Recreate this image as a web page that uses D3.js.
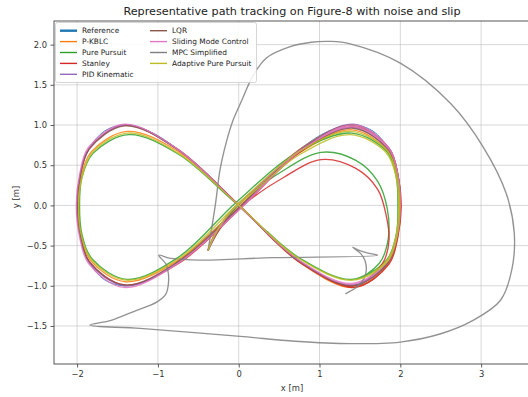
<!DOCTYPE html>
<html><head><meta charset="utf-8">
<script src="https://cdn.jsdelivr.net/npm/d3@7"></script>
<style>body{margin:0;background:#fff}svg{display:block;font-family:"DejaVu Sans",sans-serif}</style>
</head><body><svg id="c" width="528" height="397"></svg>
<script>
const title = "Representative path tracking on Figure-8 with noise and slip";
const xTicks = [-2,-1,0,1,2,3];
const yTicks = [-1.5,-1.0,-0.5,0.0,0.5,1.0,1.5,2.0];
const names = ["Reference","P-KBLC","Pure Pursuit","Stanley","PID Kinematic","LQR","Sliding Mode Control","MPC Simplified","Adaptive Pure Pursuit"];
const colors = ["#1f77b4","#ff7f0e","#2ca02c","#d62728","#9467bd","#8c564b","#e377c2","#7f7f7f","#bcbd22"];

const reference = [[0,0],[0.39,0.383],[0.765,0.707],[1.111,0.924],[1.414,1],[1.663,0.924],[1.848,0.707],[1.962,0.383],[2,0],[1.962,-0.383],[1.848,-0.707],[1.663,-0.924],[1.414,-1],[1.111,-0.924],[0.765,-0.707],[0.39,-0.383],[0,0],[-0.39,0.383],[-0.765,0.707],[-1.111,0.924],[-1.414,1],[-1.663,0.924],[-1.848,0.707],[-1.962,0.383],[-2,0],[-1.962,-0.383],[-1.848,-0.707],[-1.663,-0.924],[-1.414,-1],[-1.111,-0.924],[-0.765,-0.707],[-0.39,-0.383],[0,0]];
const pkblc = [[-0.38,-0.56],[-0.3,-0.36],[-0.12,-0.1],[0.2,0.2],[0.76,0.66],[1.4,0.94],[1.84,0.68],[1.96,0.36],[1.99,0],[1.96,-0.38],[1.85,-0.72],[1.42,-1.02],[0.77,-0.72],[0.01,-0.01],[-0.75,0.67],[-1.38,0.92],[-1.82,0.67],[-1.95,0.36],[-1.98,0],[-1.95,-0.37],[-1.83,-0.69],[-1.4,-0.95],[-0.76,-0.69],[0.01,-0.01],[0.76,0.7],[1.42,1.0],[1.86,0.71],[1.97,0.38],[2.01,0],[1.97,-0.38],[1.86,-0.72],[1.42,-1.02],[0.78,-0.72],[0.35,-0.35]];
const purePursuit = [[-0.38,-0.56],[-0.24,-0.3],[0.02,0.04],[0.5,0.4],[1.02,0.66],[1.45,0.56],[1.72,0.3],[1.84,-0.05],[1.85,-0.42],[1.74,-0.72],[1.4,-0.92],[0.76,-0.66],[-0.04,0.03],[-0.75,0.64],[-1.36,0.88],[-1.8,0.65],[-1.94,0.35],[-1.97,0],[-1.94,-0.36],[-1.81,-0.67],[-1.38,-0.92],[-0.74,-0.64],[-0.03,0.04],[0.74,0.67],[1.4,0.9],[1.84,0.66],[1.95,0.35],[1.97,0],[1.95,-0.36],[1.83,-0.68],[1.4,-0.92],[0.76,-0.66],[0.35,-0.32]];
const stanley = [[-0.38,-0.56],[-0.24,-0.3],[0.05,0.0],[0.56,0.35],[1.02,0.57],[1.45,0.46],[1.72,0.2],[1.82,-0.1],[1.86,-0.44],[1.78,-0.72],[1.42,-1.0],[0.77,-0.72],[0.02,-0.01],[-0.76,0.7],[-1.41,1.0],[-1.85,0.71],[-1.96,0.38],[-2.0,0],[-1.96,-0.38],[-1.85,-0.7],[-1.41,-0.99],[-0.74,-0.72],[0.03,-0.03],[0.77,0.67],[1.42,0.98],[1.86,0.71],[1.97,0.38],[2.01,0],[1.97,-0.39],[1.86,-0.73],[1.43,-1.02],[0.78,-0.72],[0.35,-0.35]];
const pid = [[-0.38,-0.56],[-0.28,-0.34],[-0.1,-0.08],[0.22,0.22],[0.76,0.68],[1.41,0.97],[1.85,0.69],[1.96,0.37],[2.0,0],[1.96,-0.38],[1.85,-0.7],[1.41,-0.99],[0.76,-0.7],[0,0],[-0.76,0.7],[-1.41,1.0],[-1.85,0.71],[-1.96,0.38],[-2.0,0],[-1.96,-0.38],[-1.85,-0.71],[-1.41,-1.0],[-0.75,-0.71],[0.02,-0.02],[0.77,0.7],[1.42,1.01],[1.86,0.71],[1.97,0.38],[2.0,0],[1.96,-0.38],[1.85,-0.71],[1.41,-0.99],[0.76,-0.7],[0.35,-0.34]];
const lqr = [[-0.38,-0.56],[-0.29,-0.35],[-0.11,-0.09],[0.21,0.21],[0.76,0.67],[1.41,0.96],[1.85,0.69],[1.96,0.37],[2.0,0],[1.96,-0.38],[1.85,-0.71],[1.42,-1.0],[0.76,-0.7],[0,0],[-0.76,0.7],[-1.41,0.99],[-1.85,0.7],[-1.96,0.38],[-2.0,0],[-1.96,-0.38],[-1.85,-0.7],[-1.41,-0.99],[-0.75,-0.7],[0.02,-0.01],[0.76,0.69],[1.42,1.0],[1.86,0.71],[1.97,0.38],[2.0,0],[1.96,-0.38],[1.85,-0.71],[1.42,-1.0],[0.76,-0.7],[0.35,-0.34]];
const slidingMode = [[-0.38,-0.56],[-0.27,-0.33],[-0.09,-0.07],[0.23,0.23],[0.77,0.69],[1.42,0.98],[1.86,0.7],[1.97,0.37],[2.0,0],[1.96,-0.38],[1.84,-0.7],[1.4,-0.97],[0.76,-0.69],[0,0],[-0.77,0.71],[-1.42,1.01],[-1.86,0.72],[-1.97,0.38],[-2.01,0],[-1.97,-0.39],[-1.86,-0.72],[-1.42,-1.02],[-0.75,-0.72],[0.03,-0.03],[0.78,0.69],[1.43,1.0],[1.87,0.7],[1.97,0.37],[2.0,0],[1.96,-0.38],[1.84,-0.7],[1.4,-0.98],[0.76,-0.69],[0.35,-0.34]];
const mpc = [[-0.38,-0.56],[-0.35,-0.38],[-0.29,0.0],[-0.23,0.45],[-0.15,0.8],[-0.07,1.06],[0.04,1.31],[0.18,1.62],[0.35,1.84],[0.62,1.97],[0.9,2.03],[1.14,2.04],[1.38,2.01],[2.0,1.77],[2.62,1.27],[3.03,0.72],[3.31,0.15],[3.41,-0.34],[3.38,-0.8],[3.24,-1.18],[2.9,-1.43],[2.49,-1.6],[2.0,-1.7],[1.38,-1.72],[0.7,-1.69],[0.02,-1.63],[-1.22,-1.53],[-1.84,-1.49],[-1.58,-1.43],[-1.3,-1.32],[-1.01,-1.2],[-0.9,-1.1],[-0.87,-0.97],[-0.87,-0.85],[-0.9,-0.73],[-0.99,-0.62],[-0.84,-0.66],[-0.48,-0.68],[0.42,-0.65],[1.72,-0.62],[1.59,-0.59],[1.49,-0.56],[1.41,-0.52],[1.51,-0.6],[1.56,-0.68],[1.58,-0.79],[1.55,-0.91],[1.47,-1.01],[1.32,-1.1]];
const adaptivePP = [[-0.38,-0.56],[-0.3,-0.37],[-0.12,-0.1],[0.2,0.18],[0.75,0.63],[1.38,0.88],[1.82,0.66],[1.95,0.35],[1.98,0],[1.95,-0.37],[1.83,-0.69],[1.41,-0.93],[0.76,-0.67],[-0.02,0.02],[-0.75,0.65],[-1.37,0.9],[-1.81,0.66],[-1.94,0.35],[-1.98,0],[-1.95,-0.36],[-1.82,-0.68],[-1.39,-0.93],[-0.74,-0.66],[-0.01,0.02],[0.75,0.67],[1.39,0.92],[1.84,0.68],[1.96,0.36],[1.99,0],[1.96,-0.37],[1.84,-0.7],[1.41,-0.93],[0.76,-0.67],[0.35,-0.33]];

const seriesData = [reference,pkblc,purePursuit,stanley,pid,lqr,slidingMode,mpc,adaptivePP];

const svg = d3.select("#c");
const L = 54, R = 530, T = 21, B = 364;
const x = d3.scaleLinear().domain([-2.286, 3.605]).range([L, R]);
const y = d3.scaleLinear().domain([-1.973, 2.294]).range([B, T]);

const g = svg.append("g");
g.selectAll(".gx").data(xTicks).join("line").attr("x1",d=>x(d)).attr("x2",d=>x(d)).attr("y1",T).attr("y2",B).attr("stroke","#b0b0b0").attr("stroke-opacity",0.55).attr("stroke-width",0.9);
g.selectAll(".gy").data(yTicks).join("line").attr("y1",d=>y(d)).attr("y2",d=>y(d)).attr("x1",L).attr("x2",R).attr("stroke","#b0b0b0").attr("stroke-opacity",0.55).attr("stroke-width",0.9);

svg.append("clipPath").attr("id","clip").append("rect").attr("x",L).attr("y",T).attr("width",R-L).attr("height",B-T);

const line = d3.line().x(d=>x(d[0])).y(d=>y(d[1])).curve(d3.curveCatmullRom.alpha(0.5));
const plot = svg.append("g").attr("clip-path","url(#clip)");
seriesData.forEach((d,i)=>{
  plot.append("path").datum(d).attr("d",line).attr("fill","none")
    .attr("stroke",colors[i]).attr("stroke-width", i===0?1.0:1.35)
    .attr("stroke-opacity", 0.85).attr("stroke-linejoin","round");
});

const xAxis = d3.axisBottom(x).tickValues(xTicks).tickSize(3.5).tickPadding(3.5).tickFormat(d=>d<0?"\u2212"+Math.abs(d):d);
const yAxis = d3.axisLeft(y).tickValues(yTicks).tickSize(3.5).tickPadding(3.5).tickFormat(d=>(d<0?"\u2212":"")+Math.abs(d).toFixed(1));
const ax = svg.append("g").attr("transform",`translate(0,${B})`).call(xAxis);
const ay = svg.append("g").attr("transform",`translate(${L},0)`).call(yAxis);
[ax,ay].forEach(a=>{
  a.select(".domain").remove();
  a.selectAll("line").attr("stroke","#333").attr("stroke-width",0.8);
  a.selectAll("text").attr("fill","#333").style("font-size","8.4px").style("font-family","DejaVu Sans");
});
svg.append("rect").attr("x",L).attr("y",T).attr("width",R-L).attr("height",B-T).attr("fill","none").attr("stroke","#444").attr("stroke-width",0.9);

svg.append("text").attr("x",292).attr("y",15).attr("text-anchor","middle").style("font-size","11.2px").attr("fill","#222").text(title);
svg.append("text").attr("x",292).attr("y",391).attr("text-anchor","middle").style("font-size","8.4px").attr("fill","#333").text("x [m]");
svg.append("text").attr("transform","translate(19,197) rotate(-90)").attr("text-anchor","middle").style("font-size","8.4px").attr("fill","#333").text("y [m]");

const lg = svg.append("g");
lg.append("rect").attr("x",55.5).attr("y",22.5).attr("width",201).attr("height",60).attr("rx",2).attr("fill","#fff").attr("fill-opacity",0.85).attr("stroke","#ccc").attr("stroke-width",0.8);
names.forEach((n,i)=>{
  const col = i<5?0:1, row = i<5?i:i-5;
  const lx = col===0?60:150, ty = 30.7 + row*10.9;
  lg.append("line").attr("x1",lx).attr("x2",lx+17).attr("y1",ty).attr("y2",ty).attr("stroke",colors[i]).attr("stroke-width",i===0?2.4:1.4);
  lg.append("text").attr("x",lx+22).attr("y",ty+2.6).style("font-size","7.4px").attr("fill","#222").text(n);
});
</script></body></html>
